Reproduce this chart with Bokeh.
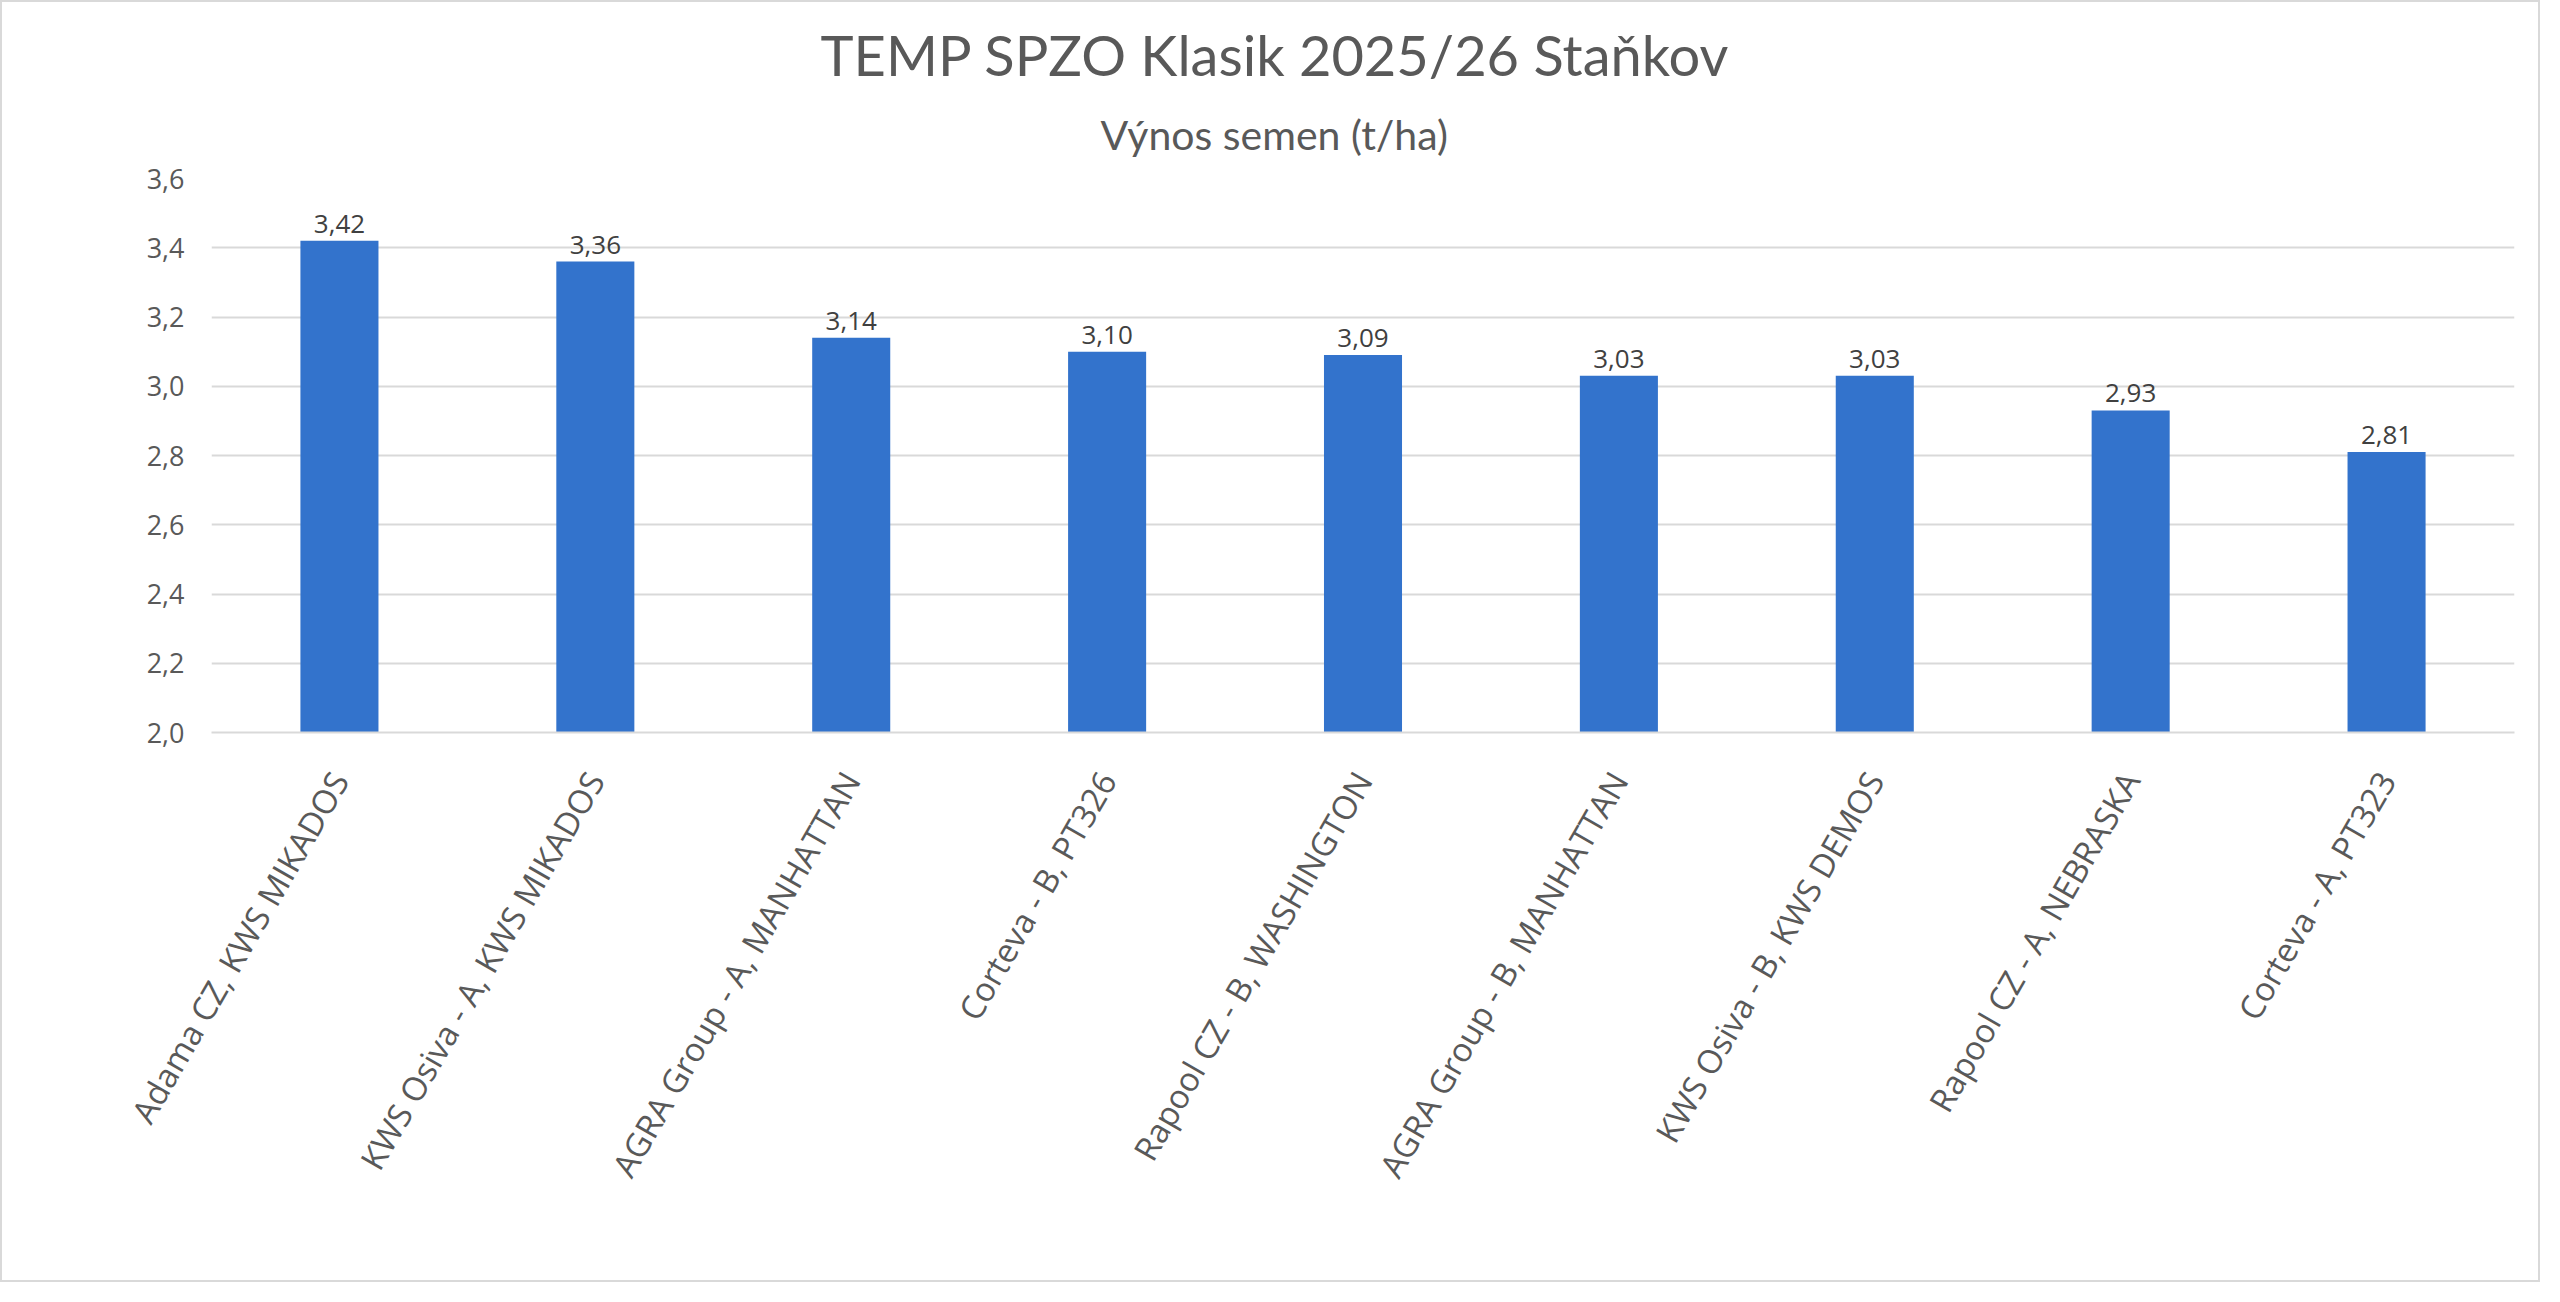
import math
from bokeh.plotting import figure
from bokeh.models import ColumnDataSource, Range1d, FixedTicker, CustomJSTickFormatter, Title
from bokeh.core.properties import value
from bokeh.embed import file_html
from bokeh.resources import INLINE

# ---- data ----
categories = [
    "Adama CZ, KWS MIKADOS",
    "KWS Osiva - A, KWS MIKADOS",
    "AGRA Group - A, MANHATTAN",
    "Corteva - B, PT326",
    "Rapool CZ - B, WASHINGTON",
    "AGRA Group - B, MANHATTAN",
    "KWS Osiva - B, KWS DEMOS",
    "Rapool CZ - A, NEBRASKA",
    "Corteva - A, PT323",
]
yields = [3.42, 3.36, 3.14, 3.10, 3.09, 3.03, 3.03, 2.93, 2.81]
y_ticks = [2.0, 2.2, 2.4, 2.6, 2.8, 3.0, 3.2, 3.4, 3.6]
title_text = "TEMP SPZO Klasik 2025/26 Staňkov"
subtitle_text = "Výnos semen (t/ha)"

y_min, y_max = y_ticks[0], y_ticks[-1]
value_labels = [f"{v:.2f}".replace(".", ",") for v in yields]

src = ColumnDataSource(data=dict(cat=categories, val=yields, lab=value_labels,
                                 base=[y_min] * len(yields)))

# ---- layout (pixels) ----
W, H = 2540, 1282
B_L, B_R, B_T, B_B = 209, 28, 176, 552

p = figure(
    x_range=categories,
    y_range=Range1d(y_min, y_max),
    width=W, height=H,
    output_backend="svg",
    toolbar_location=None,
    min_border_left=B_L, min_border_right=B_R,
    min_border_top=B_T, min_border_bottom=B_B,
)
p.styles = {"border": "2px solid #d9d9d9"}

# titles (main on top, subtitle next to the frame), centred on the whole chart
p.title = Title(text=title_text, align="left", text_font="Lato",
                text_font_size="56px", text_font_style="normal",
                text_color="#595959", offset=W / 2 - B_L - 452, standoff=0)
p.add_layout(Title(text=subtitle_text, align="left", text_font="Lato",
                   text_font_size="41px", text_font_style="normal",
                   text_color="#595959", offset=W / 2 - B_L - 172,
                   standoff=40), "above")

p.vbar(x="cat", top="val", bottom="base", width=0.305, source=src,
       fill_color="#3373cc", line_color=None)

p.text(x="cat", y="val", text="lab", source=src, text_align="center",
       text_baseline="alphabetic", y_offset=-17,
       text_font=value("Open Sans"), text_font_size="26px", text_color="#404040")

# axes
p.yaxis.ticker = FixedTicker(ticks=y_ticks)
p.yaxis.formatter = CustomJSTickFormatter(code="return tick.toFixed(1).replace('.', ',');")
p.yaxis.axis_line_color = None
p.yaxis.major_tick_line_color = None
p.yaxis.major_tick_out = 0
p.yaxis.major_tick_in = 0
p.yaxis.minor_tick_line_color = None
p.yaxis.major_label_text_font = "Open Sans"
p.yaxis.major_label_text_font_size = "27px"
p.yaxis.major_label_text_color = "#595959"
p.yaxis.major_label_standoff = 27

p.xaxis.axis_line_color = "#d9d9d9"
p.xaxis.axis_line_width = 2
p.xaxis.major_tick_line_color = None
p.xaxis.major_tick_out = 0
p.xaxis.major_tick_in = 0
p.xaxis.minor_tick_line_color = None
p.xaxis.major_label_orientation = math.pi / 3
p.xaxis.major_label_text_font = "Open Sans"
p.xaxis.major_label_text_font_size = "33px"
p.xaxis.major_label_text_color = "#595959"
p.xaxis.major_label_standoff = 42

p.xgrid.grid_line_color = None
p.ygrid.grid_line_color = "#d9d9d9"
p.ygrid.grid_line_width = 2
p.outline_line_color = None
p.x_range.range_padding = 0

open("out.html", "w").write(file_html(p, INLINE))
